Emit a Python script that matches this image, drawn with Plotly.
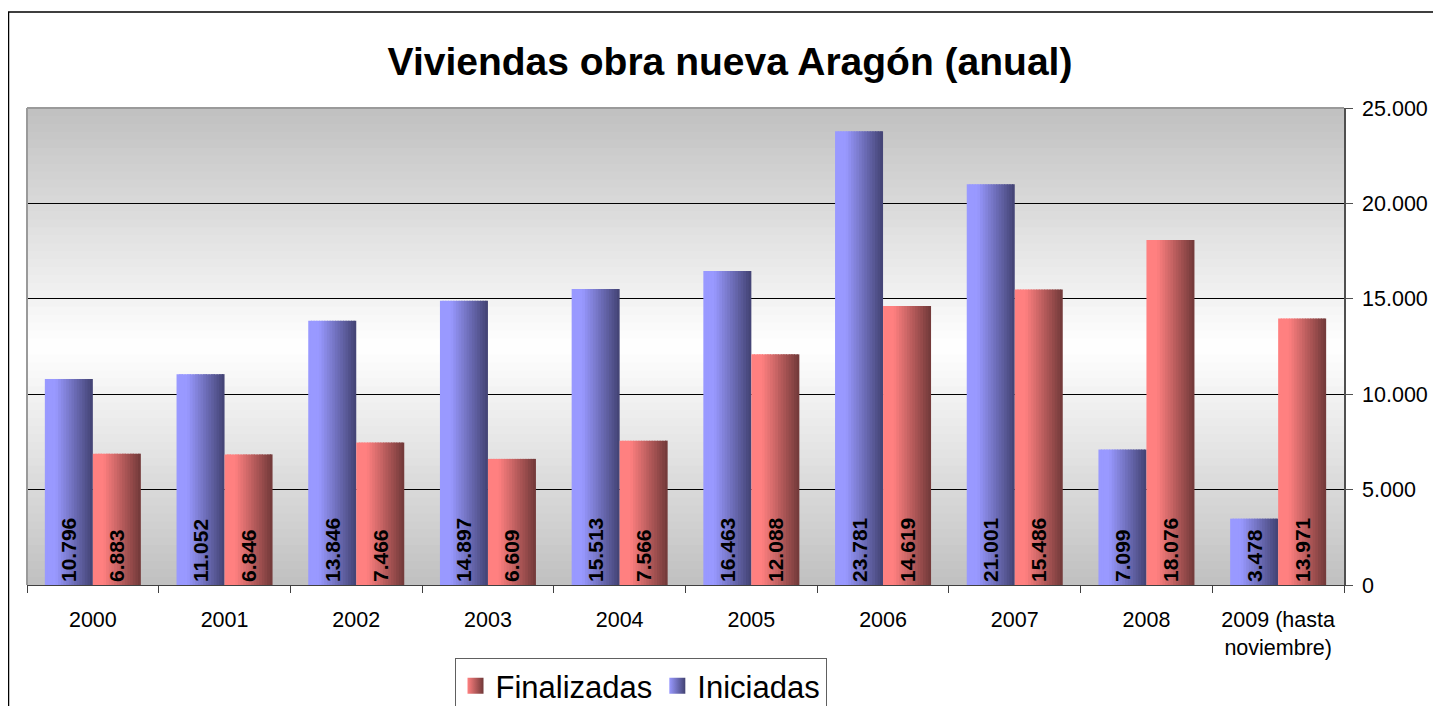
import plotly.graph_objects as go

# data
years = ["2000", "2001", "2002", "2003", "2004", "2005", "2006", "2007", "2008",
         "2009 (hasta<br>noviembre)"]
iniciadas = [10796, 11052, 13846, 14897, 15513, 16463, 23781, 21001, 7099, 3478]
finalizadas = [6883, 6846, 7466, 6609, 7566, 12088, 14619, 15486, 18076, 13971]
y_ticks = [0, 5000, 10000, 15000, 20000, 25000]

FONT = "Liberation Sans, Arial, sans-serif"
# the page body has an 8px margin, so the figure is 8px smaller than the window
W, H = 1433, 698
L, R, T, B = 19, 97, 100, 121
PW, PH = W - L - R, H - T - B
BAR_W = 0.3645      # one bar, in category units
N_SLICES = 18       # slices used to fake the horizontal gradient

BLUE_LIGHT, BLUE_DARK = (153, 153, 255), (66, 66, 114)
RED_LIGHT, RED_DARK = (255, 128, 128), (112, 56, 56)


def mix(c1, c2, t):
    return "rgb(%d,%d,%d)" % tuple(round(a + (b - a) * t) for a, b in zip(c1, c2))


def shade(light, dark, t):
    if t < 0.22:
        return mix(light, dark, 0)
    return mix(light, dark, (t - 0.22) / 0.78)


def px_y(y):
    # figure pixel row -> paper y
    return (PH - (y - T)) / PH


def px_x(x):
    return (x - L) / PW


fig = go.Figure()


def add_series(name, values, light, dark, offset):
    step = BAR_W / N_SLICES
    for k in range(N_SLICES):
        w = step * 1.4 if k < N_SLICES - 1 else step
        fig.add_trace(go.Bar(
            x=years, y=values, width=w, offset=offset + k * step,
            marker=dict(color=shade(light, dark, (k + 0.5) / N_SLICES), line_width=0),
            showlegend=False, hoverinfo="skip"))
    # transparent bar carrying the labels
    fig.add_trace(go.Bar(
        x=years, y=values, width=BAR_W, offset=offset, name=name,
        marker=dict(color="rgba(0,0,0,0)", line_width=0),
        texttemplate="%{y:,.0f}", textposition="inside", insidetextanchor="start",
        textangle=-90,
        insidetextfont=dict(family=FONT, size=21, color="black", weight="bold"),
        showlegend=False))


add_series("Iniciadas", iniciadas, BLUE_LIGHT, BLUE_DARK, -BAR_W)
add_series("Finalizadas", finalizadas, RED_LIGHT, RED_DARK, 0)

# legend entries
for name, light, dark in [("Finalizadas", RED_LIGHT, RED_DARK),
                          ("Iniciadas", BLUE_LIGHT, BLUE_DARK)]:
    fig.add_trace(go.Scatter(
        x=[None], y=[None], mode="markers", name=name,
        marker=dict(symbol="square", size=16, color=mix(light, dark, 0),
                    gradient=dict(type="horizontal", color=mix(light, dark, 1)),
                    line_width=0)))

# plot area background: grey at the edges, white in the middle
shapes = []
n_strips = 60
for i in range(n_strips):
    f = (i + 0.5) / n_strips
    v = round(192 + 63 * (1 - abs(f - 0.5) / 0.5))
    shapes.append(dict(type="rect", xref="paper", yref="paper",
                       x0=0, x1=1, y0=i / n_strips, y1=(i + 1) / n_strips + 0.002,
                       fillcolor="rgb(%d,%d,%d)" % (v, v, v), line_width=0,
                       layer="below"))

# plot area border (top and left)
shapes.append(dict(type="line", xref="paper", yref="paper", x0=0, x1=1, y0=1, y1=1,
                   line=dict(color="#9a9a9a", width=2), layer="above"))
shapes.append(dict(type="line", xref="paper", yref="paper", x0=0, x1=0, y0=0, y1=1,
                   line=dict(color="#9a9a9a", width=2), layer="above"))

# chart frame
shapes.append(dict(type="rect", xref="paper", yref="paper",
                   x0=px_x(0.5), x1=px_x(W + 20),
                   y0=px_y(H + 20), y1=px_y(4),
                   line=dict(color="black", width=1.5), fillcolor="rgba(0,0,0,0)"))

fig.update_layout(
    width=W, height=H,
    margin=dict(l=L, r=R, t=T, b=B, autoexpand=False),
    paper_bgcolor="white", plot_bgcolor="white",
    barmode="overlay",
    separators=",.",
    font=dict(family=FONT, color="black"),
    title=dict(text="<b>Viviendas obra nueva Aragón (anual)</b>",
               font=dict(family=FONT, size=39, color="black"),
               x=722 / W, xref="container", xanchor="center",
               y=1 - 53 / H, yref="container", yanchor="middle"),
    shapes=shapes,
    showlegend=True,
    legend=dict(orientation="h", x=px_x(632.5), xanchor="center",
                y=px_y(650), yanchor="top",
                font=dict(family=FONT, size=31, color="black"),
                bordercolor="#606060", borderwidth=1, bgcolor="white"),
)

fig.update_xaxes(
    type="category", categoryorder="array", categoryarray=years,
    range=[-0.5, len(years) - 0.5],
    showline=True, linecolor="#404040", linewidth=1,
    ticks="outside", tickson="boundaries", ticklen=7, tickcolor="#404040",
    tickfont=dict(family=FONT, size=21.5, color="black"), ticklabelstandoff=15,
    showgrid=False, fixedrange=True)

fig.update_yaxes(
    side="right", range=[0, 25000], tickvals=y_ticks, tickformat=",.0f",
    showline=True, linecolor="#505050", linewidth=1.5,
    ticks="outside", ticklen=7, tickcolor="#505050",
    tickfont=dict(family=FONT, size=21.5, color="black"), ticklabelstandoff=5,
    showgrid=True, gridcolor="black", gridwidth=1, zeroline=False, fixedrange=True)

fig.write_html("out.html")
